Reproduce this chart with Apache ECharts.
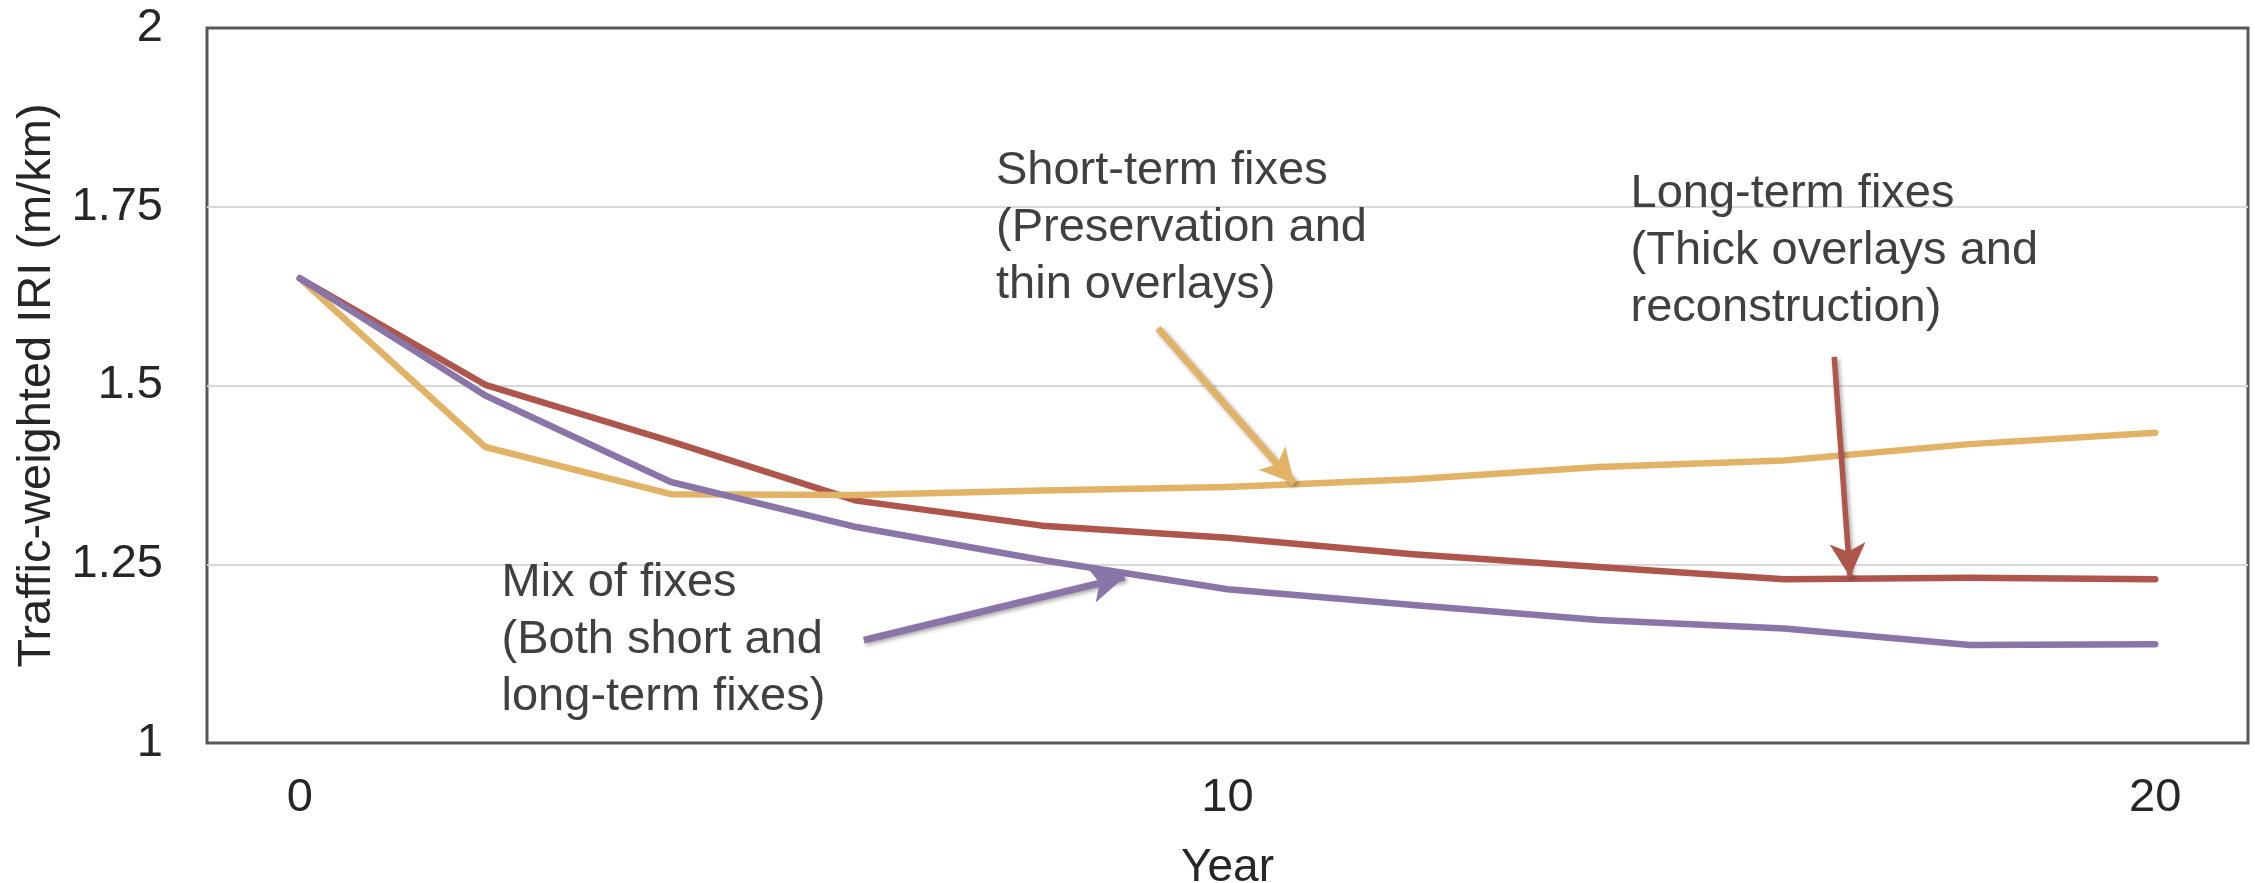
<!DOCTYPE html>
<html>
<head>
<meta charset="utf-8">
<script src="https://cdn.jsdelivr.net/npm/echarts@6/dist/echarts.min.js"></script>
<style>
  html, body { margin: 0; padding: 0; background: #ffffff; }
  #chart { width: 2255px; height: 883px; }
</style>
</head>
<body>
<div id="chart"></div>
<script>
// Years since start of the program
const years = [0, 2, 4, 6, 8, 10, 12, 14, 16, 18, 20];

// Traffic-weighted IRI (m/km) per strategy
const shortTerm = [1.65, 1.414, 1.348, 1.347, 1.353, 1.358, 1.369, 1.386, 1.395, 1.418, 1.434];
const longTerm  = [1.65, 1.501, 1.422, 1.339, 1.304, 1.287, 1.264, 1.246, 1.229, 1.231, 1.229];
const mixFixes  = [1.65, 1.486, 1.365, 1.302, 1.256, 1.215, 1.193, 1.172, 1.160, 1.137, 1.138];

// Axis tick labels
const xTickLabels = [0, 10, 20];
const yTickLabels = [1, 1.25, 1.5, 1.75, 2];

// Callout texts
const shortNote = 'Short-term fixes\n(Preservation and\nthin overlays)';
const longNote  = 'Long-term fixes\n(Thick overlays and\nreconstruction)';
const mixNote   = 'Mix of fixes\n(Both short and\nlong-term fixes)';

const FONT = 'Liberation Sans, Arial, sans-serif';
const C_SHORT = '#E2B366';
const C_LONG  = '#AE564B';
const C_MIX   = '#8A75A8';

const pairs = (vals) => years.map((y, i) => [y, vals[i]]);

// callout arrow: tail and head in data coordinates
function arrow(color, width, from, to) {
  return {
    silent: true,
    animation: false,
    symbol: ['none', 'arrow'],
    symbolSize: [1, 32],
    label: { show: false },
    lineStyle: {
      color: color, width: width, type: 'solid',
      shadowBlur: 4, shadowColor: 'rgba(0,0,0,0.35)', shadowOffsetX: 2, shadowOffsetY: 2
    },
    itemStyle: { color: color },
    data: [[{ coord: from }, { coord: to, symbol: 'arrow', symbolSize: [27, 34] }]]
  };
}

const chart = echarts.init(document.getElementById('chart'), null, { renderer: 'canvas' });

chart.setOption({
  backgroundColor: '#ffffff',
  animation: false,
  grid: {
    left: 207, right: 7, top: 28, bottom: 140,
    containLabel: false,
    outerBoundsMode: 'none',
    show: true, borderColor: '#595959', borderWidth: 3, backgroundColor: 'transparent'
  },
  xAxis: {
    type: 'value',
    min: -1, max: 21, interval: 1,
    name: 'Year',
    nameLocation: 'middle',
    nameGap: 102,
    nameTextStyle: { fontFamily: FONT, fontSize: 46, color: '#262626' },
    axisLine: { show: false },
    axisTick: { show: false },
    splitLine: { show: false },
    axisLabel: {
      fontFamily: FONT, fontSize: 47, color: '#262626', margin: 32,
      formatter: (v) => (xTickLabels.indexOf(v) >= 0 ? String(v) : '')
    }
  },
  yAxis: {
    type: 'value',
    min: 1, max: 2, interval: 0.25,
    name: 'Traffic-weighted IRI (m/km)',
    nameLocation: 'middle',
    nameGap: 131,
    nameTextStyle: { fontFamily: FONT, fontSize: 47, color: '#262626' },
    axisLine: { show: false },
    axisTick: { show: false },
    splitLine: {
      show: true, showMinLine: false, showMaxLine: false,
      lineStyle: { color: '#D9D9D9', width: 2 }
    },
    axisLabel: {
      fontFamily: FONT, fontSize: 47, color: '#262626', margin: 44,
      formatter: (v) => {
        const hit = yTickLabels.find((t) => Math.abs(t - v) < 1e-9);
        return hit === undefined ? '' : String(hit);
      }
    }
  },
  series: [
    {
      name: 'Long-term fixes',
      type: 'line',
      data: pairs(longTerm),
      showSymbol: false,
      z: 2,
      lineStyle: { color: C_LONG, width: 6.5, cap: 'round', join: 'round' },
      itemStyle: { color: C_LONG },
      markLine: arrow(C_LONG, 5.5, [16.54, 1.54], [16.71, 1.232])
    },
    {
      name: 'Short-term fixes',
      type: 'line',
      data: pairs(shortTerm),
      showSymbol: false,
      z: 3,
      lineStyle: { color: C_SHORT, width: 6.5, cap: 'round', join: 'round' },
      itemStyle: { color: C_SHORT },
      markLine: arrow(C_SHORT, 7, [9.25, 1.58], [10.72, 1.363])
    },
    {
      name: 'Mix of fixes',
      type: 'line',
      data: pairs(mixFixes),
      showSymbol: false,
      z: 4,
      lineStyle: { color: C_MIX, width: 6.5, cap: 'round', join: 'round' },
      itemStyle: { color: C_MIX },
      markLine: arrow(C_MIX, 7, [6.08, 1.144], [8.89, 1.232])
    },
    {
      name: 'notes',
      type: 'scatter',
      data: [],
      z: 5,
      markPoint: {
        silent: true,
        animation: false,
        symbol: 'rect',
        symbolSize: 1,
        itemStyle: { color: 'rgba(0,0,0,0)' },
        label: {
          show: true,
          position: [0, 0],
          align: 'left',
          verticalAlign: 'top',
          fontFamily: FONT,
          fontSize: 47,
          lineHeight: 57,
          color: '#404040',
          formatter: (p) => p.name
        },
        data: [
          { name: shortNote, coord: [7.51, 1.839] },
          { name: longNote,  coord: [14.35, 1.807] },
          { name: mixNote,   coord: [2.18, 1.263] }
        ]
      }
    }
  ]
});
</script>
</body>
</html>
